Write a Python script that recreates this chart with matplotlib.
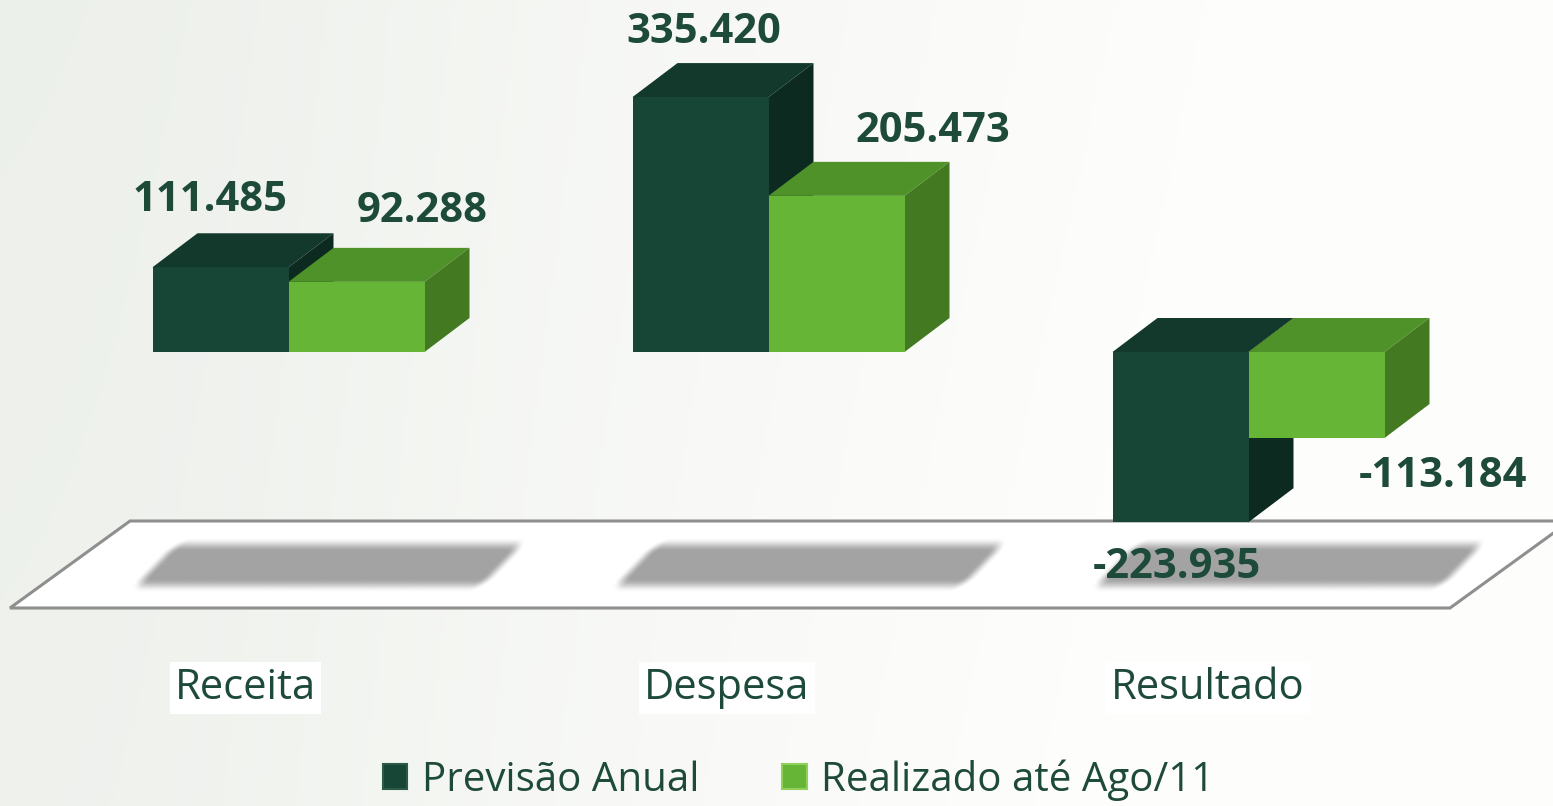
import numpy as np
import matplotlib
matplotlib.use("Agg")
import matplotlib.pyplot as plt
from matplotlib.patches import Polygon, Patch
from matplotlib.colors import to_rgb

categories = ["Receita", "Despesa", "Resultado"]
series_names = ["Previsão Anual", "Realizado até Ago/11"]
previsao = [111.485, 335.420, -223.935]
realizado = [92.288, 205.473, -113.184]
value_labels_prev = ["111.485", "335.420", "-223.935"]
value_labels_real = ["92.288", "205.473", "-113.184"]

# label offsets in pixels (x, y) from the bar end
offs_prev = [(-10, 67), (3, 65), (-4, -45)]
offs_real = [(66, 70), (96, 64), (126, -38)]

TEXT = "#1d4a39"
DARK = {"front": "#174536", "top": "#12392c", "side": "#0d2a20"}
LIGHT = {"front": "#66b536", "top": "#50922a", "side": "#437a21"}

W, H = 1553, 806
fig = plt.figure(figsize=(W / 100, H / 100), dpi=100)
ax = fig.add_axes([0, 0, 1, 1])

# scale: 480 px per category, 0.76 px per unit, zero at 352 px from top
px_x = 480.0
px_y = 0.76
x0_px = 288.5
zero_px = 352
xlim = (-x0_px / px_x, (W - x0_px) / px_x)
ylim = ((zero_px - H) / px_y, zero_px / px_y)
ax.set_xlim(*xlim)
ax.set_ylim(*ylim)
ax.axis("off")

# background
gx = np.linspace(0, 1, 300)
gy = np.linspace(0, 1, 160)
X, Y = np.meshgrid(gx, gy)
t = np.clip(0.3 + 0.9 * X + 0.1 * Y - 0.2 * np.exp(-((X - 0.1) ** 2) / 0.05), 0, 1)
c1 = np.array(to_rgb("#eaeee8"))
c2 = np.array(to_rgb("#fdfdfc"))
img = c1 * (1 - t[..., None]) + c2 * t[..., None]
ax.imshow(img, extent=[*xlim, *ylim], origin="upper", aspect="auto", zorder=0)

bw = 136 / px_x
dx = 45 / px_x
dy = 34 / px_y
n = len(categories)
xs = np.arange(n)

# floor
floor_top = (zero_px - 521) / px_y
floor_bot = (zero_px - 608) / px_y
fl_left = (10 - x0_px) / px_x
fl_right = (1450 - x0_px) / px_x
fl_shift = 120 / px_x
ax.add_patch(Polygon([(fl_left, floor_bot), (fl_right, floor_bot),
                      (fl_right + fl_shift, floor_top), (fl_left + fl_shift, floor_top)],
                     closed=True, facecolor="white", edgecolor="#8f8f8f", lw=2.2, zorder=1))

# soft shadows on the floor (skewed rounded rectangles)
sh_rgb = np.array(to_rgb("#a3a3a3"))
for xi in xs:
    cx = x0_px + xi * px_x
    u = np.arange(cx - 220, cx + 260)
    v = np.arange(525, 605)
    U, V = np.meshgrid(u, v)
    Uu = U + (V - 565) * 0.95 - cx
    ddx = np.maximum(np.abs(Uu - 40) - 163, 0)
    ddy = np.maximum(np.abs(V - 565) - 11, 0)
    d = np.sqrt(ddx ** 2 + ddy ** 2)
    a = np.clip(1 - (d - 3) / 14, 0, 1)
    a = a * a * (3 - 2 * a)
    rgba = np.zeros(U.shape + (4,))
    rgba[..., :3] = sh_rgb
    rgba[..., 3] = a
    ext = [(u[0] - x0_px) / px_x, (u[-1] - x0_px) / px_x,
           (zero_px - v[-1]) / px_y, (zero_px - v[0]) / px_y]
    ax.imshow(rgba, extent=ext, origin="upper", aspect="auto", zorder=2)
ax.set_xlim(*xlim)
ax.set_ylim(*ylim)


def draw_bar(left, val, cols, z):
    top = max(val, 0)
    bot = min(val, 0)
    ax.bar(left, val, width=bw, align="edge", color=cols["front"], lw=0, zorder=z + 0.2)
    ax.add_patch(Polygon([(left, top), (left + bw, top), (left + bw + dx, top + dy),
                          (left + dx, top + dy)], closed=True, facecolor=cols["top"],
                         edgecolor="none", zorder=z))
    ax.add_patch(Polygon([(left + bw, bot), (left + bw + dx, bot + dy),
                          (left + bw + dx, top + dy), (left + bw, top)], closed=True,
                         facecolor=cols["side"], edgecolor="none", zorder=z))


for i in xs:
    draw_bar(i - bw, previsao[i], DARK, 3)
    draw_bar(i, realizado[i], LIGHT, 4)

font = "Open Sans"
for i in xs:
    ax.annotate(value_labels_prev[i], xy=(i - bw / 2, previsao[i]), xytext=offs_prev[i],
                textcoords="offset pixels", ha="center", va="center", fontsize=30,
                fontweight="bold", color=TEXT, family=font, zorder=6)
    ax.annotate(value_labels_real[i], xy=(i + bw / 2, realizado[i]), xytext=offs_real[i],
                textcoords="offset pixels", ha="center", va="center", fontsize=30,
                fontweight="bold", color=TEXT, family=font, zorder=6)

cat_x_px = [-43, -41.5, -41]
cat_y = (zero_px - 688) / px_y
for i, c in enumerate(categories):
    ax.text(i + cat_x_px[i] / px_x, cat_y, c, ha="center", va="center", fontsize=30,
            color=TEXT, family=font, zorder=6,
            bbox=dict(facecolor="white", edgecolor="none", pad=4))

handles = [Patch(facecolor=DARK["front"], edgecolor="#2d5a48", lw=1.5),
           Patch(facecolor=LIGHT["front"], edgecolor="#8fcf5a", lw=1.5)]
leg = fig.legend(handles, series_names, loc="center", bbox_to_anchor=(0.514, 1 - 780 / H),
                 ncol=2, frameon=False, handlelength=0.62, handleheight=0.6,
                 handletextpad=0.35, columnspacing=2.05, prop={"family": font, "size": 29})
for txt in leg.get_texts():
    txt.set_color(TEXT)

fig.savefig("out.png", dpi=100)
